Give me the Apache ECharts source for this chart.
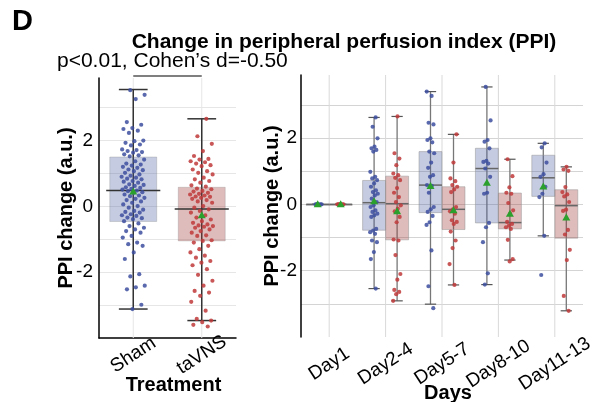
<!DOCTYPE html>
<html><head><meta charset="utf-8">
<script src="https://cdn.jsdelivr.net/npm/echarts@6/dist/echarts.min.js"></script>
<style>html,body{margin:0;padding:0;background:#fff}#c{width:608px;height:402px}</style>
</head><body><div id="c"></div>
<script>
// ---------- data ----------
const treatmentCats = ['Sham', 'taVNS'];
const dayCats = ['Day1', 'Day2-4', 'Day5-7', 'Day8-10', 'Day11-13'];
const yTickLabels = [-2, 0, 2];

// box stats: [lower whisker, Q1, median, Q3, upper whisker]
const shamBox = [-3.12, -0.46, 0.48, 1.50, 3.55];
const tavnsBox = [-3.47, -1.05, -0.08, 0.58, 2.66];
const shamMean = 0.45;
const tavnsMean = -0.27;

const shamPoints = [3.53, 3.39, 3.26, 2.56, 2.48, 2.38, 2.35, 2.3, 2.23, 2.0, 1.98, 1.93, 1.88, 1.85, 1.73, 1.71, 1.68, 1.65, 1.63, 1.58, 1.55, 1.52, 1.42, 1.37, 1.3, 1.27, 1.24, 1.2, 1.17, 1.12, 1.1, 1.07, 1.02, 0.97, 0.93, 0.9, 0.87, 0.84, 0.82, 0.77, 0.75, 0.72, 0.67, 0.65, 0.62, 0.58, 0.56, 0.53, 0.51, 0.48, 0.46, 0.43, 0.41, 0.36, 0.33, 0.31, 0.26, 0.23, 0.19, 0.15, 0.11, 0.06, 0.01, -0.04, -0.1, -0.14, -0.17, -0.19, -0.24, -0.27, -0.29, -0.34, -0.36, -0.39, -0.45, -0.52, -0.6, -0.65, -0.7, -0.75, -0.8, -0.9, -0.95, -1.1, -1.15, -1.2, -1.4, -1.6, -2.06, -2.13, -2.41, -2.46, -2.52, -2.99, -3.12];
const tavnsPoints = [2.66, 2.13, 1.9, 1.68, 1.53, 1.44, 1.42, 1.37, 1.34, 1.3, 1.25, 1.22, 1.12, 1.07, 1.02, 0.97, 0.87, 0.82, 0.77, 0.72, 0.64, 0.6, 0.54, 0.52, 0.47, 0.45, 0.41, 0.38, 0.36, 0.33, 0.3, 0.29, 0.26, 0.23, 0.19, 0.15, 0.11, 0.01, -0.04, -0.09, -0.14, -0.19, -0.27, -0.34, -0.4, -0.45, -0.5, -0.55, -0.58, -0.6, -0.62, -0.65, -0.7, -0.75, -0.8, -0.88, -0.9, -1.03, -1.05, -1.1, -1.2, -1.3, -1.4, -1.5, -1.56, -1.66, -1.71, -1.79, -1.91, -2.08, -2.26, -2.41, -2.57, -2.62, -2.72, -2.9, -3.17, -3.42, -3.47, -3.52, -3.6, -3.65];

const shamDayBoxes = [
  [0, 0, 0, 0, 0],
  [-2.54, -0.78, 0.05, 0.72, 2.62],
  [-3.01, -0.25, 0.58, 1.59, 3.40],
  [-2.42, -0.56, 1.08, 1.69, 3.54],
  [-0.95, 0.24, 0.80, 1.48, 1.84]
];
const tavnsDayBoxes = [
  [0, 0, 0, 0, 0],
  [-2.91, -1.07, 0.02, 0.85, 2.65],
  [-2.43, -0.76, -0.15, 0.53, 2.11],
  [-1.68, -0.74, -0.55, 0.34, 1.36],
  [-3.21, -1.02, -0.04, 0.44, 1.13]
];
const shamDayMeans = [0, 0.09, 0.55, 0.65, 0.54];
const tavnsDayMeans = [0, -0.21, -0.18, -0.28, -0.40];

const shamDayPoints = [
  [0, 0, 0, 0, 0, 0],
  [2.62, 2.34, 1.99, 1.74, 1.69, 1.64, 1.59, 0.98, 0.83, 0.78, 0.73, 0.63, 0.53, 0.42, 0.37, 0.32, 0.27, 0.17, 0.07, -0.03, -0.08, -0.18, -0.23, -0.28, -0.33, -0.38, -0.74, -0.79, -0.84, -0.89, -1.09, -1.14, -1.44, -1.65, -2.54],
  [3.4, 3.27, 2.46, 2.41, 1.99, 1.94, 1.87, 1.59, 1.54, 1.26, 1.1, 0.88, 0.83, 0.58, 0.56, 0.35, -0.08, -0.15, -0.23, -0.35, -0.54, -0.62, -1.39, -2.47, -3.13],
  [3.54, 2.53, 1.94, 1.89, 1.69, 1.31, 1.28, 1.23, 1.08, 0.83, 0.35, 0.32, -0.56, -0.69, -1.14, -2.08, -2.42],
  [1.84, 1.72, 1.26, 0.91, 0.83, 0.53, 0.32, 0.22, -0.95, -2.13]
];
const tavnsDayPoints = [
  [0, 0, 0, 0, 0, 0],
  [2.65, 1.54, 1.38, 1.18, 0.93, 0.88, 0.8, 0.73, 0.49, 0.35, 0.22, 0.07, -0.03, -0.13, -0.21, -0.38, -0.54, -1.06, -1.09, -1.53, -2.1, -2.27, -2.58, -2.64, -2.71, -2.91],
  [2.11, 1.26, 0.78, 0.7, 0.58, 0.53, 0.45, 0.37, -0.08, -0.15, -0.21, -0.28, -0.48, -0.53, -0.59, -0.82, -1.09, -1.32, -1.8, -2.43],
  [1.36, 0.85, 0.51, 0.35, 0.32, 0.04, -0.18, -0.28, -0.53, -0.59, -0.64, -0.69, -0.74, -1.07, -1.65, -1.72],
  [1.13, 1.05, 1.01, 0.52, 0.37, 0.3, 0.24, 0.07, -0.16, -0.2, -0.77, -0.91, -1.37, -1.68, -2.76, -3.21]
];

// ---------- styles ----------
const FONT = 'Liberation Sans, Arial, sans-serif';
const BLUE = '#3d4f9f', RED = '#c0393b', GREEN = '#2ca02c';
const BLUE_FILL = 'rgba(76,93,160,0.32)', RED_FILL = 'rgba(160,63,63,0.35)';

function jitter(i) { return ((i * 0.6180339887 + 0.37) % 1) * 2 - 1; }

function boxItems(boxes, sign) {
  return boxes.map((b, i) => [i, b[0], b[1], b[2], b[3], b[4], sign]);
}
function pointItems(catIdx, pts, sign) {
  return pts.map((v, k) => [catIdx, v, sign, k]);
}

const leftBoxData = [[0].concat(shamBox, [0]), [1].concat(tavnsBox, [0])];
const rightBoxData = boxItems(shamDayBoxes, -1).concat(boxItems(tavnsDayBoxes, 1));

const leftPointData = pointItems(0, shamPoints, 0).concat(pointItems(1, tavnsPoints, 0));
let rightPointData = [];
dayCats.forEach((c, i) => {
  rightPointData = rightPointData.concat(pointItems(i, shamDayPoints[i], -1), pointItems(i, tavnsDayPoints[i], 1));
});
const leftMeanData = [[0, shamMean, 0], [1, tavnsMean, 0]];
const rightMeanData = shamDayMeans.map((m, i) => [i, m, -1]).concat(tavnsDayMeans.map((m, i) => [i, m, 1]));

function makeBoxRender(cfg) {
  return function (params, api) {
    const cat = api.value(0), sign = api.value(6);
    const band = api.size([1, 0])[0];
    const cx = api.coord([cat, 0])[0] + sign * cfg.offset * band;
    const y = k => api.coord([cat, api.value(k)])[1];
    const yLo = y(1), yQ1 = y(2), yMed = y(3), yQ3 = y(4), yHi = y(5);
    const w = cfg.width * band, cap = cfg.cap * band, med = cfg.med * band;
    const fill = cfg.fill(cat, sign);
    return {
      type: 'group', children: [
        { type: 'line', shape: { x1: cx, y1: yHi, x2: cx, y2: yLo }, style: { stroke: cfg.whisker, lineWidth: cfg.whiskerWidth } },
        { type: 'rect', shape: { x: cx - w / 2, y: yQ3, width: w, height: Math.max(yQ1 - yQ3, 1) }, style: { fill: fill, stroke: cfg.border, lineWidth: 1 } },
        { type: 'line', shape: { x1: cx - cap / 2, y1: yHi, x2: cx + cap / 2, y2: yHi }, style: { stroke: cfg.capColor, lineWidth: cfg.capWidth } },
        { type: 'line', shape: { x1: cx - cap / 2, y1: yLo, x2: cx + cap / 2, y2: yLo }, style: { stroke: cfg.capColor, lineWidth: cfg.capWidth } },
        { type: 'line', shape: { x1: cx - med / 2, y1: yMed, x2: cx + med / 2, y2: yMed }, style: { stroke: cfg.medColor, lineWidth: cfg.medWidth } }
      ]
    };
  };
}
function makePointRender(cfg) {
  return function (params, api) {
    const cat = api.value(0), v = api.value(1), sign = api.value(2), k = api.value(3);
    const band = api.size([1, 0])[0];
    const p = api.coord([cat, v]);
    const cx = p[0] + sign * cfg.offset * band + jitter(k + cat * 7 + (sign > 0 ? 3 : 0)) * cfg.jit * band;
    const isRed = cfg.left ? cat === 1 : sign > 0;
    return { type: 'circle', shape: { cx: cx, cy: p[1], r: 2.1 }, style: { fill: isRed ? RED : BLUE, opacity: 0.85 } };
  };
}
function makeMeanRender(cfg) {
  return function (params, api) {
    const cat = api.value(0), v = api.value(1), sign = api.value(2);
    const band = api.size([1, 0])[0];
    const p = api.coord([cat, v]);
    const cx = p[0] + sign * cfg.offset * band, cy = p[1];
    const s = 4;
    return { type: 'polygon', shape: { points: [[cx, cy - s], [cx - s, cy + s * 0.75], [cx + s, cy + s * 0.75]] }, style: { fill: GREEN } };
  };
}
function vGridRender(params, api) {
  const cs = params.coordSys;
  const x = api.coord([api.value(0), 0])[0];
  return { type: 'line', shape: { x1: x, y1: cs.y, x2: x, y2: cs.y + cs.height }, style: { stroke: cs.x > 200 ? '#d9d9d9' : '#e6e6e6', lineWidth: 1 } };
}

function yAxisCfg(gridIndex, gridColor, nameGap, labelMargin) {
  return {
    type: 'value', gridIndex: gridIndex, min: -4, max: 3.9, interval: 1,
    name: 'PPI change (a.u.)', nameLocation: 'middle', nameGap: nameGap, nameMoveOverlap: false,
    nameTextStyle: { fontFamily: FONT, fontWeight: 'bold', fontSize: 20, color: '#000' },
    axisLine: { show: true, onZero: false, lineStyle: { color: '#000', width: 1.5 } },
    axisTick: { show: false },
    axisLabel: { fontFamily: FONT, fontSize: 19, color: '#000', margin: labelMargin,
      formatter: v => (yTickLabels.indexOf(Math.round(v * 100) / 100) >= 0 ? String(v) : '') },
    splitLine: { show: true, showMinLine: false, showMaxLine: false, lineStyle: { color: gridColor, width: 1 } }
  };
}

const option = {
  animation: false,
  backgroundColor: '#fff',
  graphic: [
    { type: 'text', left: 12, top: 7, style: { text: 'D', font: 'bold 29px ' + FONT, fill: '#000' } },
    { type: 'text', x: 344, y: 42, style: { text: 'Change in peripheral perfusion index (PPI)', font: 'bold 21px ' + FONT, fill: '#000', textAlign: 'center', textVerticalAlign: 'middle' } },
    { type: 'text', x: 57, y: 61, style: { text: 'p<0.01, Cohen\u2019s d=-0.50', font: '21px ' + FONT, fill: '#000', textAlign: 'left', textVerticalAlign: 'middle' } }
  ],
  grid: [
    { left: 99, right: 372, top: 78, bottom: 64, containLabel: false, outerBoundsMode: 'none' },
    { left: 301, right: 25, top: 75, bottom: 65, containLabel: false, outerBoundsMode: 'none' }
  ],
  xAxis: [
    { type: 'category', gridIndex: 0, data: treatmentCats, boundaryGap: true,
      name: 'Treatment', nameLocation: 'middle', nameGap: 37, nameMoveOverlap: false,
      nameTextStyle: { fontFamily: FONT, fontWeight: 'bold', fontSize: 20, color: '#000', padding: [0, 0, 0, 12] },
      axisLine: { show: true, onZero: false, lineStyle: { color: '#000', width: 1.5 } }, axisTick: { show: false }, splitLine: { show: false },
      axisLabel: { fontFamily: FONT, fontSize: 19, color: '#000', rotate: 33, align: 'center', verticalAlign: 'middle', margin: 17 } },
    { type: 'category', gridIndex: 1, data: dayCats, boundaryGap: true,
      name: 'Days', nameLocation: 'middle', nameGap: 46, nameMoveOverlap: false,
      nameTextStyle: { fontFamily: FONT, fontWeight: 'bold', fontSize: 20, color: '#000', padding: [0, 0, 0, 12] },
      axisLine: { show: false, onZero: false }, axisTick: { show: false }, splitLine: { show: false },
      axisLabel: { fontFamily: FONT, fontSize: 19, color: '#000', rotate: 33, align: 'center', verticalAlign: 'middle', margin: 27, interval: 0 } }
  ],
  yAxis: [yAxisCfg(0, '#e6e6e6', 23, 6), yAxisCfg(1, '#d4d4d4', 19, 4)],
  series: [
    { type: 'custom', xAxisIndex: 0, yAxisIndex: 0, z: 1, silent: true, data: treatmentCats.map((c, i) => [i]), renderItem: vGridRender },
    { type: 'custom', xAxisIndex: 1, yAxisIndex: 1, z: 1, silent: true, data: dayCats.map((c, i) => [i]), renderItem: vGridRender },
    { type: 'custom', xAxisIndex: 0, yAxisIndex: 0, z: 2, silent: true, data: leftBoxData,
      renderItem: makeBoxRender({ offset: 0, width: 0.686, cap: 0.42, med: 0.79, whisker: '#333', whiskerWidth: 1.5,
        capColor: '#333', capWidth: 1.5, medColor: '#333', medWidth: 1.5, border: 'rgba(120,120,120,0.25)',
        fill: (cat) => cat === 0 ? BLUE_FILL : RED_FILL }) },
    { type: 'custom', xAxisIndex: 1, yAxisIndex: 1, z: 2, silent: true, data: rightBoxData,
      renderItem: makeBoxRender({ offset: 0.204, width: 0.407, cap: 0.2, med: 0.407, whisker: '#777', whiskerWidth: 1.3,
        capColor: '#555', capWidth: 1.2, medColor: '#666', medWidth: 1.5, border: 'rgba(150,150,150,0.5)',
        fill: (cat, sign) => sign < 0 ? BLUE_FILL : RED_FILL }) },
    { type: 'custom', xAxisIndex: 0, yAxisIndex: 0, z: 3, silent: true, data: leftPointData, renderItem: makePointRender({ offset: 0, jit: 0.17, left: true }) },
    { type: 'custom', xAxisIndex: 1, yAxisIndex: 1, z: 3, silent: true, data: rightPointData, renderItem: makePointRender({ offset: 0.204, jit: 0.07, left: false }) },
    { type: 'custom', xAxisIndex: 0, yAxisIndex: 0, z: 4, silent: true, data: leftMeanData, renderItem: makeMeanRender({ offset: 0 }) },
    { type: 'custom', xAxisIndex: 1, yAxisIndex: 1, z: 4, silent: true, data: rightMeanData, renderItem: makeMeanRender({ offset: 0.204 }) },
    { type: 'custom', xAxisIndex: 0, yAxisIndex: 0, z: 4, silent: true, clip: false, data: [[0, 3.96]],
      renderItem: function (params, api) {
        const a = api.coord([0, api.value(1)]), b = api.coord([1, api.value(1)]);
        return { type: 'line', shape: { x1: a[0], y1: a[1], x2: b[0], y2: b[1] }, style: { stroke: '#555', lineWidth: 1.5 } };
      } }
  ]
};
const chart = echarts.init(document.getElementById('c'), null, { renderer: 'canvas' });
chart.setOption(option);
</script></body></html>
